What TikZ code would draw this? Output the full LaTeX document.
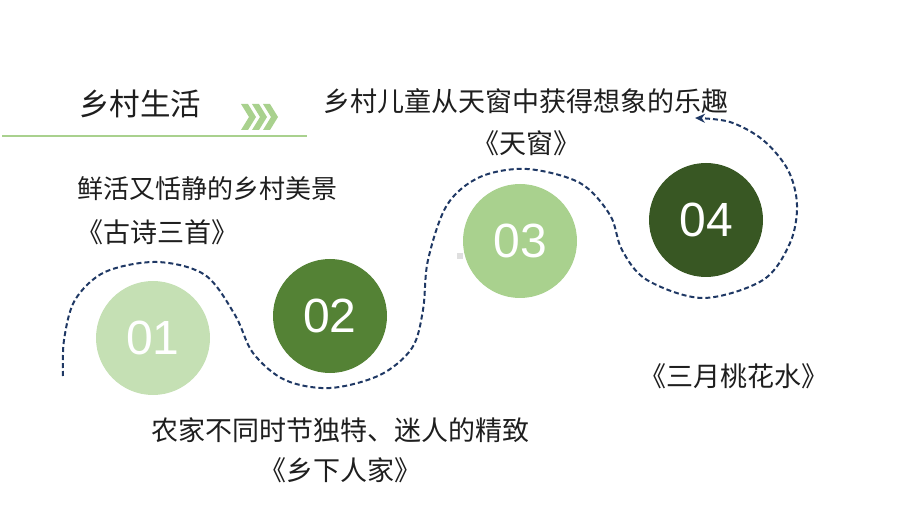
\documentclass[tikz,border=0pt]{standalone}
\usepackage{fontspec}
\newfontfamily\cjk{Noto Sans CJK SC}
\newfontfamily\numfont{Liberation Sans}
\usetikzlibrary{arrows.meta}
\definecolor{pale}{HTML}{C5E0B4}
\definecolor{leaf}{HTML}{548235}
\definecolor{light}{HTML}{A9D18E}
\definecolor{forest}{HTML}{385723}
\definecolor{ink}{HTML}{1F3864}
\definecolor{txt}{HTML}{1E1E1E}
\begin{document}
\begin{tikzpicture}[x=1pt,y=-1pt,
    ball/.style={circle,minimum size=114pt,inner sep=0pt,text=white,
      font=\numfont\fontsize{48}{48}\selectfont},
    words/.style={text=txt,inner sep=0pt,font=\cjk\fontsize{27}{30}\selectfont}]
    \useasboundingbox (0,0) rectangle (920,518);
    \draw [light,line width=1.5pt] (2,136) -- (307,136);
    \foreach \x in {241,252,263}
      \fill [light] (\x,104) -- (\x+7,104) -- (\x+15,117) -- (\x+7,130) -- (\x,130) -- (\x+8,117) -- cycle;
    \node [words,font=\cjk\fontsize{30.5}{32}\selectfont] (title) at (140,104) {乡村生活};
    \draw [ink,line width=2pt,dash pattern=on 5pt off 3pt,-{Stealth[length=10pt,width=9pt]}]
      plot [smooth,tension=0.55] coordinates {(63,376) (64,340) (75,300) (105,272) (157,262)
      (205,275) (235,315) (253,353) (285,380) (330,388) (380,375) (412,348) (423,310)
      (428,260) (447,205) (480,177) (527,169) (580,183) (610,215) (622,250) (647,280)
      (703,298) (763,280) (790,243) (797,205) (788,170) (763,140) (730,122) (695,118)};
    \fill [gray!25] (457,253) rectangle (463,259);
    \node [ball,fill=pale] (c1) at (153,338) {01};
    \node [ball,fill=leaf] (c2) at (330,316) {02};
    \node [ball,fill=light] (c3) at (520,241) {03};
    \node [ball,fill=forest] (c4) at (706,220) {04};
    \node [words,anchor=west,font=\cjk\fontsize{26}{30}\selectfont] (t1a) at (77,189) {鲜活又恬静的乡村美景};
    \node [words,anchor=west] (t1b) at (76,232) {《古诗三首》};
    \node [words] (t2a) at (340,430) {农家不同时节独特、迷人的精致};
    \node [words] (t2b) at (340,470) {《乡下人家》};
    \node [words] (t3) at (734,376) {《三月桃花水》};
    \node [words] (t4a) at (526,101) {乡村儿童从天窗中获得想象的乐趣};
    \node [words] (t4b) at (526,143) {《天窗》};
\end{tikzpicture}
\end{document}
